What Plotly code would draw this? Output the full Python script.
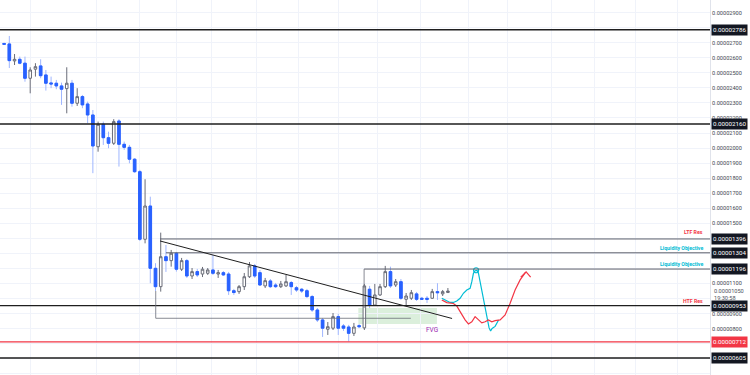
import plotly.graph_objects as go

SCALE = 1e-8  # prices below are in units of 0.00000001

# ---- candle data (bar index, OHLC) ----
open_ = [2695, 2692, 2579, 2590, 2564, 2464, 2524, 2546, 2486, 2433,
         2431, 2413, 2395, 2431, 2298, 2342, 2293, 2220, 2009, 2158,
         2069, 2032, 2180, 2025, 2005, 1926, 1843, 1394, 1615, 1201,
         1079, 1278, 1252, 1301, 1195, 1252, 1150, 1179, 1163, 1168,
         1190, 1163, 1172, 1163, 1052, 1046, 1079, 1145, 1217, 1172,
         1084, 1117, 1090, 1079, 1084, 1106, 1072, 1062, 1052, 1013,
         924, 858, 796, 803, 880, 818, 811, 769, 820, 805,
         1062, 957, 1024, 1079, 1179, 1090, 1112, 995, 1002, 1031,
         1002, 1002, 1002, 1046, 1031, 1040]
high = [2700, 2745, 2625, 2608, 2608, 2537, 2564, 2590, 2519, 2475,
        2453, 2435, 2537, 2453, 2398, 2353, 2309, 2253, 2176, 2176,
        2109, 2192, 2192, 2043, 2021, 1934, 1855, 1793, 1677, 1235,
        1438, 1356, 1323, 1310, 1270, 1263, 1203, 1197, 1210, 1203,
        1290, 1190, 1183, 1177, 1064, 1090, 1170, 1243, 1230, 1190,
        1137, 1130, 1104, 1117, 1157, 1117, 1084, 1070, 1064, 1024,
        937, 871, 844, 904, 898, 831, 825, 838, 831, 1097,
        1084, 1097, 1097, 1217, 1212, 1130, 1130, 1037, 1057, 1044,
        1011, 1017, 1064, 1102, 1057, 1070]
low = [2685, 2532, 2552, 2557, 2441, 2364, 2475, 2464, 2382, 2398,
       2391, 2287, 2231, 2275, 2280, 2265, 2165, 1833, 1976, 2021,
       1999, 2021, 1877, 1988, 1899, 1835, 1383, 1367, 1102, 1050,
       1046, 1177, 1212, 1179, 1183, 1137, 1130, 1143, 1143, 1157,
       1157, 1137, 1150, 1024, 1024, 1031, 1057, 1137, 1137, 1084,
       1070, 1070, 1070, 1070, 1077, 1024, 1044, 1037, 1004, 911,
       844, 745, 758, 791, 758, 785, 714, 751, 805, 791,
       937, 951, 1017, 1070, 1070, 1077, 991, 957, 991, 984,
       991, 971, 997, 991, 1017, 1037]
close = [2690, 2581, 2590, 2564, 2464, 2519, 2541, 2481, 2431, 2426,
         2413, 2391, 2431, 2298, 2342, 2287, 2220, 2014, 2158, 2069,
         2032, 2176, 2025, 2005, 1926, 1843, 1394, 1615, 1201, 1079,
         1278, 1252, 1301, 1195, 1252, 1150, 1179, 1157, 1195, 1190,
         1168, 1172, 1157, 1052, 1040, 1079, 1145, 1217, 1150, 1090,
         1119, 1079, 1079, 1097, 1112, 1079, 1057, 1050, 1013, 924,
         858, 803, 813, 880, 803, 803, 769, 811, 813, 1084,
         957, 1024, 1079, 1179, 1084, 1112, 1002, 1017, 1039, 995,
         995, 995, 1046, 1039, 1046, 1050]
bars = list(range(len(open_)))

# ---- axis ticks ----
tick_levels = list(range(500, 3000, 100))
hidden_ticks = [500, 600, 700, 1000, 1200, 1300, 1400, 2800]
x_grid = [5.1, 17.7, 26.0, 33.1, 39.8, 48.4, 56.3, 64.0, 71.6, 79.7,
          88.9, 96.5, 104.9, 113.0, 121.0, 129.0]
x_range = [-0.785, 135.2]
y_range = [492, 2984]

# ---- drawings (bar index / price) ----
full_levels = [2786, 2160, 953, 605]
red_level = 712
partial_levels = [1396, 1304, 1196]
partial_starts = [29.87, 31.0, 68.95]
base_level = 869
base_start, base_end = 29.04, 77.9
box_left_bar = 68.95
box_bottom = 937
trend_x = [29.87, 85.8]
trend_y = [1382.7, 867.6]
fvg_x = [67.85, 82.9]
fvg_y = [831, 937]
fvg_label_pos = (81.9, 791)
current_price = 1050
countdown = "19:30:58"

cyan_x = [83.83, 84.79, 85.42, 86.05, 86.70, 87.34, 87.97, 88.62, 89.25, 89.58,
          89.89, 90.21, 90.59, 90.84, 91.17, 91.49, 91.93, 92.45, 92.89, 93.18,
          93.47, 94.04, 94.43, 94.71]
cyan_y = [1002, 987, 974, 974, 984, 1002, 1035, 1057, 1068, 1112,
          1168, 1185, 1187, 1170, 1110, 1035, 957, 878, 805, 785,
          801, 815, 838, 858]
target_x, target_y = 90.4, 1188
red_x = [83.83, 84.79, 86.05, 86.70, 87.34, 88.29, 88.93, 89.58, 90.21, 90.84,
         91.49, 92.13, 92.76, 93.41, 94.04, 95.0, 95.96, 96.92, 97.87, 98.83, 99.9]
red_y = [991, 973, 967, 951, 913, 858, 831, 846, 880, 862,
         838, 846, 858, 846, 853, 858, 891, 969, 1057, 1124, 1176]
arrow_x = [98.95, 99.98, 100.85]
arrow_y = [1142, 1177, 1142]

labels_right = [("LTF Res", 1396, "#f23645", 6.5),
                ("Liquidity Objective", 1304, "#00bcd4", 4.8),
                ("Liquidity Objective", 1196, "#00bcd4", 4.6),
                ("HTF Res", 953, "#f23645", 4.4)]

S = lambda arr: [v * SCALE for v in arr]

BLUE = "#2962ff"
fig = go.Figure()
# wicks + bodies
fig.add_trace(go.Candlestick(
    x=bars, open=S(open_), high=S(high), low=S(low), close=S(close),
    increasing=dict(line=dict(color="#6a6d78", width=1), fillcolor="#ffffff"),
    decreasing=dict(line=dict(color="#9fb6ff", width=1), fillcolor=BLUE),
    hoverinfo="skip", showlegend=False))
# solid bearish bodies on top
bx = [b for b in bars if close[b] < open_[b]]
fig.add_trace(go.Candlestick(
    x=bx, open=S([open_[b] for b in bx]), high=S([open_[b] for b in bx]),
    low=S([close[b] for b in bx]), close=S([close[b] for b in bx]),
    increasing=dict(line=dict(color=BLUE, width=1), fillcolor=BLUE),
    decreasing=dict(line=dict(color=BLUE, width=1), fillcolor=BLUE),
    hoverinfo="skip", showlegend=False))

# forecast paths
fig.add_trace(go.Scatter(x=cyan_x, y=S(cyan_y), mode="lines",
                         line=dict(color="#00bcd4", width=1.2), hoverinfo="skip", showlegend=False))
fig.add_trace(go.Scatter(x=[target_x], y=S([target_y]), mode="markers",
                         marker=dict(symbol="circle-open", size=5, color="#00bcd4", line=dict(width=1.2)),
                         hoverinfo="skip", showlegend=False))
fig.add_trace(go.Scatter(x=red_x, y=S(red_y), mode="lines",
                         line=dict(color="#f23645", width=1.2), hoverinfo="skip", showlegend=False))
fig.add_trace(go.Scatter(x=arrow_x, y=S(arrow_y), mode="lines",
                         line=dict(color="#f23645", width=1.2), hoverinfo="skip", showlegend=False))

shapes = []
for lv in full_levels:
    shapes.append(dict(type="line", xref="paper", x0=0, x1=1, y0=lv * SCALE, y1=lv * SCALE,
                       line=dict(color="#1e1e1e", width=1.4), layer="above"))
shapes.append(dict(type="line", xref="paper", x0=0, x1=1, y0=red_level * SCALE, y1=red_level * SCALE,
                   line=dict(color="#f23645", width=1.2)))
for lv, st in zip(partial_levels, partial_starts):
    shapes.append(dict(type="line", xref="x", x0=st, x1=x_range[1], y0=lv * SCALE, y1=lv * SCALE,
                       line=dict(color="#5d606b", width=1)))
shapes.append(dict(type="line", xref="x", x0=base_start, x1=base_end, y0=base_level * SCALE,
                   y1=base_level * SCALE, line=dict(color="#6a6d78", width=0.8)))
shapes.append(dict(type="line", xref="x", x0=base_start, x1=base_start, y0=low[29] * SCALE,
                   y1=base_level * SCALE, line=dict(color="#6a6d78", width=0.8)))
shapes.append(dict(type="line", xref="x", x0=box_left_bar, x1=box_left_bar, y0=partial_levels[2] * SCALE,
                   y1=box_bottom * SCALE, line=dict(color="#6a6d78", width=0.8)))
shapes.append(dict(type="rect", xref="x", x0=fvg_x[0], x1=fvg_x[1], y0=fvg_y[0] * SCALE, y1=fvg_y[1] * SCALE,
                   fillcolor="rgba(76,175,80,0.2)", line=dict(width=0), layer="below"))
shapes.append(dict(type="line", xref="x", x0=trend_x[0], x1=trend_x[1], y0=trend_y[0] * SCALE,
                   y1=trend_y[1] * SCALE, line=dict(color="#1e1e1e", width=1)))

FONT = "Roboto, Liberation Sans, sans-serif"
ann = []
box_levels = full_levels + partial_levels
for lv in box_levels:
    ann.append(dict(xref="paper", x=1, xanchor="left", xshift=1, yref="y", y=lv * SCALE,
                    yanchor="middle", text=f"{lv * SCALE:.8f}", showarrow=False,
                    bgcolor="#131722", borderpad=1, font=dict(color="#ffffff", size=6.2, family=FONT)))
ann.append(dict(xref="paper", x=1, xanchor="left", xshift=1, yref="y", y=red_level * SCALE,
                yanchor="middle", text=f"{red_level * SCALE:.8f}", showarrow=False,
                bgcolor="#f23645", borderpad=1, font=dict(color="#ffffff", size=6.2, family=FONT)))
ann.append(dict(xref="paper", x=1, xanchor="left", xshift=2, yref="y", y=current_price * SCALE,
                yanchor="middle", text=f"{current_price * SCALE:.8f}", showarrow=False,
                font=dict(color="#50535e", size=5.6, family=FONT)))
ann.append(dict(xref="paper", x=1, xanchor="left", xshift=2, yref="y", y=current_price * SCALE,
                yanchor="middle", yshift=-6.5, text=countdown, showarrow=False,
                font=dict(color="#50535e", size=5.6, family=FONT)))
for txt, lv, col, ys in labels_right:
    ann.append(dict(xref="paper", x=1, xanchor="right", xshift=-5, yref="y", y=lv * SCALE,
                    yanchor="middle", yshift=ys, text=f"<b>{txt}</b>", showarrow=False,
                    font=dict(color=col, size=5.2, family=FONT)))
ann.append(dict(xref="x", x=fvg_label_pos[0], yref="y", y=fvg_label_pos[1] * SCALE, text="FVG",
                showarrow=False, font=dict(color="#9c27b0", size=6.5, family=FONT)))

fig.update_layout(
    width=750, height=375, margin=dict(l=0, r=40, t=0, b=0),
    paper_bgcolor="#ffffff", plot_bgcolor="#ffffff",
    shapes=shapes, annotations=ann, hovermode=False, showlegend=False,
    xaxis=dict(range=x_range, rangeslider=dict(visible=False), showticklabels=False,
               tickmode="array", tickvals=x_grid, showgrid=True, gridcolor="#f0f3fa",
               zeroline=False, ticks=""),
    yaxis=dict(side="right", range=[y_range[0] * SCALE, y_range[1] * SCALE], tickmode="array",
               tickvals=S(tick_levels),
               ticktext=["" if v in hidden_ticks else f"{v * SCALE:.8f}" for v in tick_levels],
               showgrid=True, gridcolor="#f0f3fa", zeroline=False, ticks="",
               showline=True, linecolor="#e0e3eb", linewidth=1,
               tickfont=dict(size=5.6, color="#434651", family=FONT)),
)

fig.write_html("out.html")
